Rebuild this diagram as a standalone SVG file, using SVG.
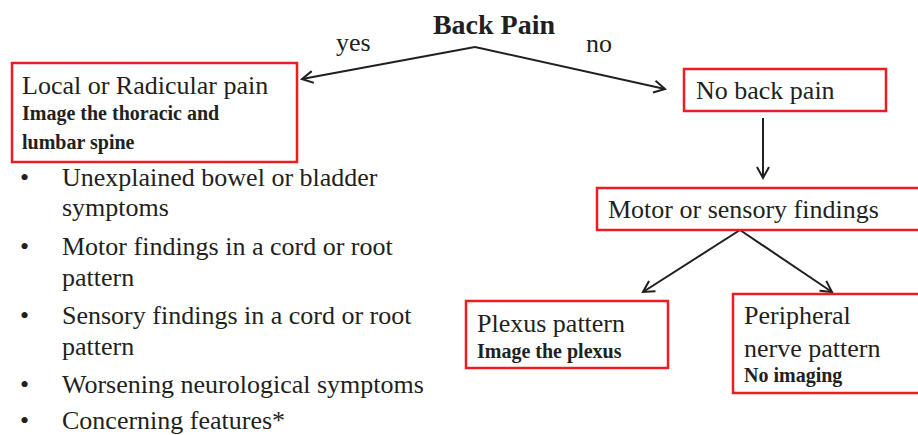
<svg xmlns="http://www.w3.org/2000/svg" width="918" height="435" viewBox="0 0 918 435">
<defs>
<marker id="arr" markerUnits="userSpaceOnUse" markerWidth="16" markerHeight="16" viewBox="0 0 16 16" refX="13" refY="8" orient="auto">
<path d="M2,2 L13,8 L2,14" fill="none" stroke="#231f20" stroke-width="2"/>
</marker>
<style>
.box{fill:#fff;stroke:#ed1c24;stroke-width:2.5}
.t{font-family:"Liberation Serif","Times New Roman",serif;font-size:26px;fill:#231f20}
.b{font-family:"Liberation Serif","Times New Roman",serif;font-size:20px;font-weight:bold;fill:#231f20}
.h{font-family:"Liberation Serif","Times New Roman",serif;font-size:28px;font-weight:bold;fill:#231f20}
.c{fill:none;stroke:#231f20;stroke-width:2;marker-end:url(#arr)}
</style>
</defs>
<rect width="918" height="435" fill="#fff"/>
<g id="connectors">
<path class="c" d="M475,47 L302,79"/>
<path class="c" d="M475,47 L665,89"/>
<path class="c" d="M763,118 L763,178"/>
<path class="c" d="M740,230 L643,292"/>
<path class="c" d="M740,230 L832,292"/>
<text class="t" x="336" y="51">yes</text>
<text class="t" x="586" y="52">no</text>
</g>
<g id="back-pain">
<text class="h" x="494" y="34" text-anchor="middle">Back Pain</text>
</g>
<g id="local-radicular">
<rect class="box" x="12" y="63" width="285" height="99"/>
<text class="t" x="22" y="94">Local or Radicular pain</text>
<text class="b" x="22" y="120">Image the thoracic and</text>
<text class="b" x="22" y="149">lumbar spine</text>
</g>
<g id="indications">
<text class="t" x="20" y="186">•</text>
<text class="t" x="62" y="186">Unexplained bowel or bladder</text>
<text class="t" x="62" y="216">symptoms</text>
<text class="t" x="20" y="255">•</text>
<text class="t" x="62" y="255">Motor findings in a cord or root</text>
<text class="t" x="62" y="286">pattern</text>
<text class="t" x="20" y="324">•</text>
<text class="t" x="62" y="324">Sensory findings in a cord or root</text>
<text class="t" x="62" y="355">pattern</text>
<text class="t" x="20" y="393">•</text>
<text class="t" x="62" y="393">Worsening neurological symptoms</text>
<text class="t" x="20" y="429">•</text>
<text class="t" x="62" y="429">Concerning features*</text>
</g>
<g id="no-back-pain">
<rect class="box" x="684" y="69" width="202" height="42"/>
<text class="t" x="696" y="99">No back pain</text>
</g>
<g id="motor-sensory">
<rect class="box" x="597" y="188" width="330" height="42"/>
<text class="t" x="608" y="218">Motor or sensory findings</text>
</g>
<g id="plexus">
<rect class="box" x="466" y="301" width="202" height="67"/>
<text class="t" x="477" y="332">Plexus pattern</text>
<text class="b" x="477" y="358">Image the plexus</text>
</g>
<g id="peripheral">
<rect class="box" x="733" y="294" width="194" height="99"/>
<text class="t" x="744" y="324">Peripheral</text>
<text class="t" x="744" y="357">nerve pattern</text>
<text class="b" x="744" y="382">No imaging</text>
</g>
</svg>
